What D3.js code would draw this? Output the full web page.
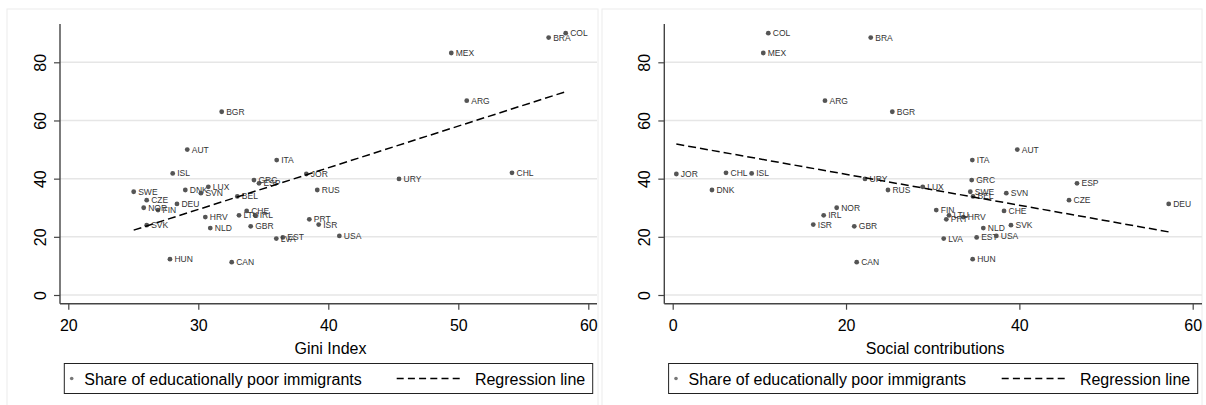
<!DOCTYPE html>
<html lang="en">
    <head>
        <meta charset="utf-8">
        <title>Educationally poor immigrants</title>
        <style>
            body { margin: 0; background: #fff; }
            svg { display: block; font-family: "Liberation Sans", Arial, sans-serif; }
            .grid line { stroke: #e6e6e6; stroke-width: 1.5; }
            .axis line, .axis path { stroke: #444; }
            .lbl { font-size: 8.5px; fill: #333; }
        </style>
    </head>
    <body>
        <div id="chart"></div>
        <script src="https://d3js.org/d3.v7.min.js"></script>
        <script>
            // data
            const countries = ["AUT","BEL","BGR","BRA","CAN","CHE","CHL","COL","CZE","DEU","DNK","ESP","EST","FIN","GBR","GRC","HRV","HUN","IRL","ISL","ISR","ITA","JOR","LTU","LUX","LVA","MEX","NLD","NOR","PRT","RUS","SVK","SVN","SWE","URY","USA","ARG"];
            const share = [50.0,33.9,63.0,88.5,11.3,28.9,42.0,90.0,32.6,31.3,36.1,38.4,19.8,29.2,23.6,39.5,26.8,12.3,27.4,41.8,24.2,46.4,41.6,27.4,37.2,19.4,83.2,23.0,30.0,26.0,36.1,24.0,35.0,35.5,39.9,20.3,66.8];
            const gini = [29.15,33.0,31.8,56.95,32.57,33.72,54.13,58.26,26.03,28.36,29.0,34.67,36.5,26.9,34.03,34.28,30.54,27.82,34.38,28.03,39.26,36.03,38.31,33.13,30.77,36.0,49.46,30.92,25.8,38.54,39.15,26.03,30.2,25.03,45.44,40.85,50.65];
            const social = [39.76,34.65,25.34,22.85,21.23,38.23,6.15,11.03,45.73,57.23,4.53,46.65,35.07,30.41,20.95,34.5,33.53,34.61,17.42,9.11,16.22,34.57,0.42,31.88,28.85,31.27,10.45,35.84,18.92,31.57,24.84,39.03,38.49,34.34,22.19,37.34,17.57];
            // regression line: [intercept, slope]
            const regGini = [-13.56, 1.4325];
            const regSocial = [52.12, -0.5316];
            const yTicks = [0, 20, 40, 60, 80];
            const giniTicks = [20, 30, 40, 50, 60];
            const socialTicks = [0, 20, 40, 60];

            const W = 1206, H = 405;
            const svg = d3.select("#chart").append("svg")
                .attr("width", W).attr("height", H);

            const y = d3.scaleLinear().domain([0, 80]).range([295, 62.3]);

            const panels = [
                { xv: gini, reg: regGini, ticks: giniTicks, title: "Gini Index",
                  x: d3.scaleLinear().domain([20, 60]).range([68.3, 588.3]),
                  left: 60, right: 597, frame: [7, 598] },
                { xv: social, reg: regSocial, ticks: socialTicks, title: "Social contributions",
                  x: d3.scaleLinear().domain([0, 60]).range([672.7, 1192.7]),
                  left: 664.3, right: 1202, frame: [602, 1202] }
            ];
            const axisTop = 24, axisBottom = 303.7;

            panels.forEach(p => {
                const g = svg.append("g");
                // faint outer frame
                g.append("rect")
                    .attr("x", p.frame[0]).attr("y", 9)
                    .attr("width", p.frame[1] - p.frame[0]).attr("height", H + 5)
                    .attr("fill", "none").attr("stroke", "#ececec");

                // gridlines
                g.append("g").attr("class", "grid")
                    .selectAll("line").data(yTicks).join("line")
                    .attr("x1", p.left).attr("x2", p.right)
                    .attr("y1", d => y(d)).attr("y2", d => y(d));

                // y axis
                const ya = g.append("g").attr("class", "axis")
                    .attr("transform", `translate(${p.left},0)`)
                    .call(d3.axisLeft(y).tickValues(yTicks).tickSize(6).tickSizeOuter(0));
                ya.select(".domain").remove();
                ya.selectAll(".tick line").attr("stroke-width", 1.2);
                ya.selectAll(".tick text")
                    .attr("x", null).attr("dy", null)
                    .attr("transform", "translate(-14,0) rotate(-90)")
                    .attr("text-anchor", "middle")
                    .attr("font-size", 16).attr("font-family", null).attr("fill", "#000");
                g.append("line").attr("x1", p.left).attr("x2", p.left)
                    .attr("y1", axisTop).attr("y2", axisBottom)
                    .attr("stroke", "#444").attr("stroke-width", 1.4);

                // x axis
                const xa = g.append("g").attr("class", "axis")
                    .attr("transform", `translate(0,${axisBottom})`)
                    .call(d3.axisBottom(p.x).tickValues(p.ticks).tickSize(6).tickSizeOuter(0));
                xa.select(".domain").remove();
                xa.selectAll(".tick line").attr("stroke-width", 1.2);
                xa.selectAll(".tick text")
                    .attr("y", 27).attr("dy", null)
                    .attr("font-size", 16).attr("font-family", null).attr("fill", "#000");
                g.append("line").attr("x1", p.left).attr("x2", p.right)
                    .attr("y1", axisBottom).attr("y2", axisBottom)
                    .attr("stroke", "#444").attr("stroke-width", 1.4);

                g.append("text")
                    .attr("x", (p.left + p.right) / 2 + 2).attr("y", 354)
                    .attr("text-anchor", "middle").attr("font-size", 16)
                    .text(p.title);

                // points + labels
                const pts = g.append("g").selectAll("g").data(countries).join("g")
                    .attr("transform", (d, i) => `translate(${p.x(p.xv[i])},${y(share[i])})`);
                pts.append("circle").attr("r", 2.4).attr("fill", "#555");
                pts.append("text").attr("class", "lbl")
                    .attr("x", 4.5).attr("dy", "0.35em")
                    .text(d => d);

                // regression line over the data range
                const ext = d3.extent(p.xv);
                const line = d3.line().x(d => p.x(d)).y(d => y(p.reg[0] + p.reg[1] * d));
                g.append("path").datum(ext)
                    .attr("d", line)
                    .attr("fill", "none").attr("stroke", "#000")
                    .attr("stroke-width", 1.5).attr("stroke-dasharray", "8,4");

                // legend
                const lx = p.left + 4.3, lw = p.right - p.left - 8.6;
                const lg = g.append("g");
                lg.append("rect").attr("x", lx).attr("y", 363.5)
                    .attr("width", lw).attr("height", 30)
                    .attr("fill", "#fff").attr("stroke", "#222").attr("stroke-width", 1);
                lg.append("circle").attr("cx", lx + 7.4).attr("cy", 378.5)
                    .attr("r", 1.8).attr("fill", "#777");
                lg.append("text").attr("x", lx + 20).attr("y", 384.5)
                    .attr("font-size", 16).text("Share of educationally poor immigrants");
                lg.append("line")
                    .attr("x1", lx + lw - 196).attr("x2", lx + lw - 129)
                    .attr("y1", 378.5).attr("y2", 378.5)
                    .attr("stroke", "#000").attr("stroke-width", 1.3)
                    .attr("stroke-dasharray", "7,4.2");
                lg.append("text").attr("x", lx + lw - 7.5).attr("y", 384.5)
                    .attr("text-anchor", "end").attr("font-size", 16)
                    .text("Regression line");
            });
        </script>
    </body>
</html>
